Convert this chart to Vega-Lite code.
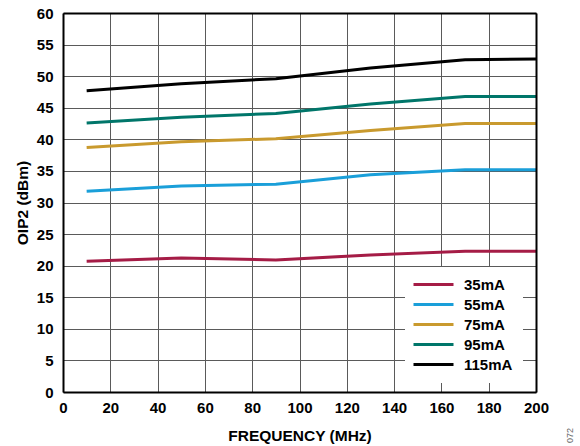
{
  "$schema": "https://vega.github.io/schema/vega-lite/v6.json",
  "width": 473,
  "height": 379,
  "autosize": "none",
  "padding": {"left": 63, "top": 13, "right": 44, "bottom": 54},
  "background": "white",
  "config": {
    "view": {"stroke": null},
    "font": "Liberation Sans",
    "axis": {
      "labelFont": "Liberation Sans", "labelFontWeight": "bold", "labelFontSize": 15, "labelColor": "black",
      "titleFont": "Liberation Sans", "titleFontWeight": "bold", "titleFontSize": 15.5, "titleColor": "black",
      "gridColor": "#5a5a5a", "gridOpacity": 1, "gridWidth": 1,
      "domainColor": "black", "domainWidth": 2, "labelFlush": false, "labelOverlap": false
    }
  },
  "data": {"values": [
    {"freq": 10, "oip2": 20.7, "series": "35mA"},
    {"freq": 50, "oip2": 21.2, "series": "35mA"},
    {"freq": 90, "oip2": 20.9, "series": "35mA"},
    {"freq": 130, "oip2": 21.7, "series": "35mA"},
    {"freq": 170, "oip2": 22.3, "series": "35mA"},
    {"freq": 200, "oip2": 22.3, "series": "35mA"},
    {"freq": 10, "oip2": 31.8, "series": "55mA"},
    {"freq": 50, "oip2": 32.6, "series": "55mA"},
    {"freq": 90, "oip2": 32.9, "series": "55mA"},
    {"freq": 130, "oip2": 34.4, "series": "55mA"},
    {"freq": 170, "oip2": 35.2, "series": "55mA"},
    {"freq": 200, "oip2": 35.2, "series": "55mA"},
    {"freq": 10, "oip2": 38.7, "series": "75mA"},
    {"freq": 50, "oip2": 39.6, "series": "75mA"},
    {"freq": 90, "oip2": 40.1, "series": "75mA"},
    {"freq": 130, "oip2": 41.4, "series": "75mA"},
    {"freq": 170, "oip2": 42.5, "series": "75mA"},
    {"freq": 200, "oip2": 42.5, "series": "75mA"},
    {"freq": 10, "oip2": 42.6, "series": "95mA"},
    {"freq": 50, "oip2": 43.5, "series": "95mA"},
    {"freq": 90, "oip2": 44.1, "series": "95mA"},
    {"freq": 130, "oip2": 45.6, "series": "95mA"},
    {"freq": 170, "oip2": 46.8, "series": "95mA"},
    {"freq": 200, "oip2": 46.8, "series": "95mA"},
    {"freq": 10, "oip2": 47.7, "series": "115mA"},
    {"freq": 50, "oip2": 48.8, "series": "115mA"},
    {"freq": 90, "oip2": 49.6, "series": "115mA"},
    {"freq": 130, "oip2": 51.3, "series": "115mA"},
    {"freq": 170, "oip2": 52.6, "series": "115mA"},
    {"freq": 200, "oip2": 52.7, "series": "115mA"}
  ]},
  "layer": [
    {
      "mark": {"type": "line", "strokeWidth": 3},
      "encoding": {
        "x": {"field": "freq", "type": "quantitative", "scale": {"domain": [0, 200], "nice": false},
          "axis": {"orient": "bottom", "title": "FREQUENCY (MHz)", "values": [0,20,40,60,80,100,120,140,160,180,200], "grid": true, "ticks": false, "labelPadding": 8, "titlePadding": 13, "zindex": 0, "domain": true}},
        "y": {"field": "oip2", "type": "quantitative", "scale": {"domain": [0, 60], "nice": false},
          "axis": {"orient": "left", "title": "OIP2 (dBm)", "values": [0,5,10,15,20,25,30,35,40,45,50,55,60], "grid": true, "ticks": false, "labelPadding": 10, "titlePadding": 6, "zindex": 0, "domain": true}},
        "color": {"field": "series", "type": "nominal", "sort": ["35mA", "55mA", "75mA", "95mA", "115mA"],
          "scale": {"domain": ["35mA", "55mA", "75mA", "95mA", "115mA"], "range": ["#a51c46", "#1a9fd9", "#c99a2e", "#00766a", "#000000"]},
          "legend": {"orient": "none", "legendX": 342, "legendY": 254, "title": null, "fillColor": "white",
            "padding": 10, "symbolType": "M-4,0H4", "symbolSize": 100, "symbolStrokeWidth": 3, "symbolOffset": 11,
            "labelFont": "Liberation Sans", "labelFontWeight": "bold", "labelFontSize": 15, "labelColor": "black",
            "labelOffset": 23, "rowPadding": 4, "zindex": 0}}
      }
    },
    {
      "mark": {"type": "point", "opacity": 0},
      "encoding": {
        "x": {"field": "freq", "type": "quantitative",
          "axis": {"orient": "top", "title": null, "labels": false, "grid": false, "ticks": false, "domain": true, "zindex": 1}},
        "y": {"field": "oip2", "type": "quantitative",
          "axis": {"orient": "right", "title": "072", "labels": false, "grid": false, "ticks": false, "domain": true, "zindex": 1,
            "titleAngle": 270, "titleFontSize": 9, "titleFontWeight": "normal", "titleColor": "#666666", "titleX": 33, "titleY": 422, "titleAlign": "center", "titleBaseline": "middle"}}
      }
    }
  ],
  "resolve": {"axis": {"x": "independent", "y": "independent"}}
}
